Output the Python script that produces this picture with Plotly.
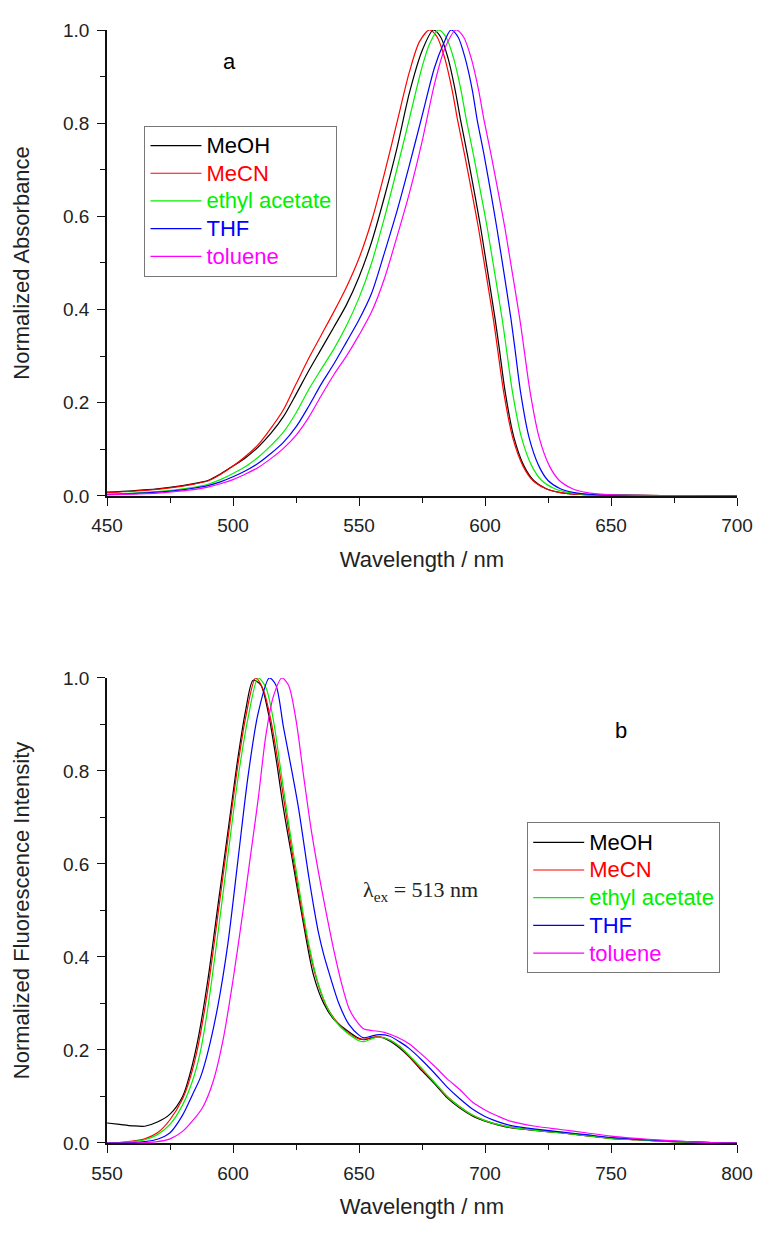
import plotly.graph_objects as go
from plotly.subplots import make_subplots

# ---------------- Data: absorbance (panel a) ----------------
abs_meoh_x = [450, 460, 470, 480, 485, 490, 495, 500, 505, 510, 515, 520, 525, 530, 535, 540, 545, 550,
              555, 560, 565, 570, 575, 579.5, 582.4, 585.3, 588.2, 590.2, 593.1, 596, 598.3, 600.8, 604,
              605.7, 608.1, 611.5, 615.4, 619.3, 624.1, 630, 638, 650, 670, 700]
abs_meoh_y = [0.008, 0.011, 0.015, 0.022, 0.027, 0.033, 0.047, 0.064, 0.082, 0.105, 0.134, 0.170, 0.218,
              0.268, 0.315, 0.362, 0.410, 0.470, 0.545, 0.640, 0.745, 0.865, 0.955, 1.000, 0.985, 0.940,
              0.870, 0.810, 0.730, 0.645, 0.575, 0.490, 0.380, 0.315, 0.220, 0.125, 0.065, 0.033, 0.016,
              0.007, 0.003, 0.0015, 0.0008, 0.0004]

abs_mecn_x = [450, 460, 470, 480, 485, 490, 495, 500, 505, 510, 515, 520, 525, 530, 535, 540, 545, 550,
              555, 560, 565, 570, 574, 578, 581, 584, 587, 589, 592, 595, 597.4, 600, 603.3, 605, 607.5,
              611, 615, 619, 624, 630, 638, 650, 670, 700]
abs_mecn_y = [0.007, 0.010, 0.014, 0.021, 0.026, 0.032, 0.046, 0.064, 0.085, 0.110, 0.145, 0.185, 0.240,
              0.295, 0.345, 0.395, 0.448, 0.510, 0.590, 0.690, 0.800, 0.910, 0.975, 1.000, 0.985, 0.940,
              0.870, 0.810, 0.730, 0.645, 0.575, 0.490, 0.380, 0.315, 0.220, 0.125, 0.065, 0.033, 0.016,
              0.007, 0.003, 0.0015, 0.0008, 0.0004]

abs_etac_x = [450, 460, 470, 480, 485, 490, 495, 500, 505, 510, 515, 520, 525, 530, 535, 540, 545, 550,
              555, 560, 565, 570, 575, 578, 581.5, 584.5, 587.5, 590.5, 592.5, 595.5, 598.5, 600.9, 603.5,
              606.8, 608.5, 611, 614.5, 618.5, 622.5, 627.5, 633.5, 641.5, 650, 670, 700]
abs_etac_y = [0.004, 0.006, 0.009, 0.015, 0.019, 0.025, 0.035, 0.048, 0.063, 0.083, 0.108, 0.137, 0.178,
              0.228, 0.272, 0.315, 0.365, 0.425, 0.500, 0.595, 0.700, 0.810, 0.920, 0.970, 1.000, 0.985,
              0.940, 0.870, 0.810, 0.730, 0.645, 0.575, 0.490, 0.380, 0.315, 0.220, 0.125, 0.065, 0.033,
              0.016, 0.007, 0.003, 0.0015, 0.0008, 0.0004]

abs_thf_x = [450, 460, 470, 480, 485, 490, 495, 500, 505, 510, 515, 520, 525, 530, 535, 540, 545, 550,
             555, 560, 565, 570, 575, 580, 583.5, 586.5, 589.3, 592.1, 595, 596.8, 599.7, 602.5, 604.7,
             607.2, 610.3, 611.9, 614.2, 617.5, 621.3, 625, 629.7, 635.5, 642.9, 655, 675, 700]
abs_thf_y = [0.003, 0.005, 0.008, 0.013, 0.017, 0.022, 0.030, 0.041, 0.054, 0.070, 0.091, 0.115, 0.148,
             0.192, 0.240, 0.283, 0.330, 0.378, 0.435, 0.520, 0.610, 0.710, 0.815, 0.920, 0.970, 1.000,
             0.985, 0.940, 0.870, 0.810, 0.730, 0.645, 0.575, 0.490, 0.380, 0.315, 0.220, 0.125, 0.065,
             0.033, 0.016, 0.007, 0.003, 0.0012, 0.0006, 0.0003]

abs_tol_x = [450, 460, 470, 480, 485, 490, 495, 500, 505, 510, 515, 520, 525, 530, 535, 540, 545, 550,
             555, 560, 565, 570, 575, 580, 584, 588.5, 591.5, 594.5, 597.5, 599.5, 602.5, 605.5, 607.9,
             610.5, 613.8, 615.5, 618, 621.5, 625.5, 629.5, 634.5, 640.5, 648.5, 660, 680, 700]
abs_tol_y = [0.002, 0.004, 0.006, 0.011, 0.014, 0.019, 0.026, 0.035, 0.047, 0.061, 0.080, 0.102, 0.130,
             0.168, 0.215, 0.260, 0.300, 0.345, 0.395, 0.465, 0.555, 0.650, 0.760, 0.885, 0.960, 1.000,
             0.985, 0.940, 0.870, 0.810, 0.730, 0.645, 0.575, 0.490, 0.380, 0.315, 0.220, 0.125, 0.065,
             0.033, 0.016, 0.007, 0.003, 0.0012, 0.0006, 0.0003]

# ---------------- Data: fluorescence (panel b) ----------------
fl_meoh_x = [550, 555, 560, 565, 570, 575, 580, 583, 586, 590, 594, 598, 602, 605, 608, 611, 614, 617,
             620, 624, 628, 632, 636, 640, 645, 650, 652, 655, 658, 662, 666, 670, 675, 680, 685, 690,
             695, 700, 705, 710, 720, 730, 740, 750, 760, 770, 780, 790, 800]
fl_meoh_y = [0.043, 0.040, 0.037, 0.036, 0.045, 0.062, 0.100, 0.150, 0.220, 0.350, 0.510, 0.670, 0.830,
             0.930, 0.995, 0.985, 0.925, 0.830, 0.720, 0.595, 0.470, 0.360, 0.300, 0.266, 0.243, 0.225,
             0.222, 0.226, 0.228, 0.220, 0.205, 0.185, 0.155, 0.127, 0.097, 0.075, 0.058, 0.047, 0.039,
             0.033, 0.027, 0.022, 0.016, 0.010, 0.007, 0.004, 0.002, 0.001, 0.000]

fl_mecn_x = [550, 555, 560, 565, 570, 575, 580, 583, 586, 590, 594, 598, 602, 605, 609, 612, 615, 618,
             621, 625, 629, 633, 637, 641, 645, 650, 652, 655, 658, 662, 666, 670, 675, 680, 685, 690,
             695, 700, 705, 710, 720, 730, 740, 750, 760, 770, 780, 790, 800]
fl_mecn_y = [0.000, 0.001, 0.004, 0.009, 0.022, 0.050, 0.095, 0.140, 0.205, 0.330, 0.490, 0.655, 0.815,
             0.915, 1.000, 0.975, 0.910, 0.815, 0.710, 0.575, 0.450, 0.355, 0.295, 0.262, 0.240, 0.224,
             0.223, 0.227, 0.229, 0.222, 0.208, 0.186, 0.158, 0.130, 0.100, 0.078, 0.060, 0.048, 0.040,
             0.034, 0.027, 0.022, 0.016, 0.010, 0.007, 0.004, 0.002, 0.001, 0.000]

fl_etac_x = [550, 555, 560, 565, 570, 575, 580, 584, 587, 590, 594, 598, 602, 606, 610, 613, 616, 619,
             622, 626, 630, 634, 638, 642, 646, 650, 652, 655, 658, 662, 666, 670, 675, 680, 685, 690,
             695, 700, 705, 710, 720, 730, 740, 750, 760, 770, 780, 790, 800]
fl_etac_y = [0.000, 0.001, 0.003, 0.007, 0.018, 0.040, 0.082, 0.135, 0.195, 0.290, 0.450, 0.620, 0.785,
             0.915, 1.000, 0.980, 0.910, 0.800, 0.690, 0.555, 0.430, 0.340, 0.285, 0.253, 0.234, 0.220,
             0.218, 0.224, 0.228, 0.222, 0.208, 0.188, 0.160, 0.130, 0.100, 0.078, 0.060, 0.048, 0.040,
             0.034, 0.027, 0.022, 0.016, 0.010, 0.007, 0.004, 0.002, 0.001, 0.000]

fl_thf_x = [550, 560, 565, 570, 575, 580, 584, 587, 590, 594, 598, 602, 606, 610, 614.4, 617, 620, 623,
            626, 630, 632, 634, 636, 638, 642, 646, 650, 652, 655, 658, 662, 666, 670, 675, 680, 685,
            690, 695, 700, 705, 710, 720, 730, 740, 750, 760, 770, 780, 790, 800]
fl_thf_y = [0.000, 0.001, 0.003, 0.008, 0.022, 0.060, 0.105, 0.140, 0.195, 0.295, 0.430, 0.610, 0.790,
            0.925, 1.000, 0.985, 0.895, 0.810, 0.720, 0.575, 0.509, 0.450, 0.405, 0.368, 0.300, 0.255,
            0.232, 0.226, 0.230, 0.233, 0.230, 0.218, 0.203, 0.178, 0.150, 0.120, 0.095, 0.073, 0.057,
            0.046, 0.038, 0.030, 0.024, 0.018, 0.012, 0.008, 0.005, 0.003, 0.001, 0.000]

fl_tol_x = [550, 560, 565, 570, 575, 580, 584, 588, 592, 596, 600, 604, 607, 610, 613, 616, 619.4, 622,
            625, 628, 631, 634, 637, 640, 643, 646, 649, 652, 655, 660, 665, 670, 675, 680, 685, 690,
            695, 700, 705, 710, 720, 730, 740, 750, 760, 770, 780, 790, 800]
fl_tol_y = [0.000, 0.000, 0.001, 0.003, 0.009, 0.025, 0.048, 0.077, 0.130, 0.220, 0.350, 0.500, 0.620,
            0.740, 0.875, 0.960, 1.000, 0.985, 0.910, 0.790, 0.675, 0.580, 0.495, 0.415, 0.345, 0.290,
            0.262, 0.245, 0.242, 0.238, 0.228, 0.213, 0.190, 0.165, 0.138, 0.115, 0.088, 0.071, 0.058,
            0.047, 0.036, 0.029, 0.022, 0.015, 0.010, 0.006, 0.003, 0.001, 0.000]

solvents = ["MeOH", "MeCN", "ethyl acetate", "THF", "toluene"]
colors = ["#000000", "#ff0000", "#00f000", "#0000ff", "#ff00ff"]
abs_series = [(abs_meoh_x, abs_meoh_y), (abs_mecn_x, abs_mecn_y), (abs_etac_x, abs_etac_y),
              (abs_thf_x, abs_thf_y), (abs_tol_x, abs_tol_y)]
fl_series = [(fl_meoh_x, fl_meoh_y), (fl_mecn_x, fl_mecn_y), (fl_etac_x, fl_etac_y),
             (fl_thf_x, fl_thf_y), (fl_tol_x, fl_tol_y)]

x_ticks_a = [450, 500, 550, 600, 650, 700]
x_ticks_b = [550, 600, 650, 700, 750, 800]
y_ticks = [0.0, 0.2, 0.4, 0.6, 0.8, 1.0]

# ---------------- Figure ----------------
fig = make_subplots(rows=2, cols=1, vertical_spacing=0.1)

def label(name, col):
    return f'<span style="color:{col};font-size:22px">{name}</span>'

for name, col, (xs, ys) in zip(solvents, colors, abs_series):
    fig.add_trace(go.Scatter(x=xs, y=ys, mode="lines",
                             line=dict(color=col, width=1.2, shape="spline", smoothing=0.8),
                             name=label(name, col), legend="legend"),
                  row=1, col=1)
for name, col, (xs, ys) in zip(solvents, colors, fl_series):
    fig.add_trace(go.Scatter(x=xs, y=ys, mode="lines",
                             line=dict(color=col, width=1.2, shape="spline", smoothing=0.8),
                             name=label(name, col), legend="legend2"),
                  row=2, col=1)

FONT = "Liberation Sans, Arial, sans-serif"
TXT = "#222222"
axis_common = dict(showline=True, linecolor="#111111", linewidth=1.5, ticks="outside", ticklen=8,
                   tickwidth=1.3, tickcolor="#111111", showgrid=False, zeroline=False, mirror=False,
                   ticklabelstandoff=4, ticklabeloverflow="allow",
                   tickfont=dict(family=FONT, size=19, color=TXT))
minor_common = dict(ticks="outside", ticklen=5, tickwidth=1.2, tickcolor="#111111")

fig.update_xaxes(**axis_common)
fig.update_yaxes(**axis_common)

fig.update_xaxes(range=[450, 700], tickvals=x_ticks_a, domain=[0, 1],
                 minor=dict(dtick=25, tick0=450, **minor_common),
                 title=dict(text="Wavelength / nm", font=dict(family=FONT, size=22, color=TXT), standoff=16),
                 row=1, col=1)
fig.update_xaxes(range=[550, 800], tickvals=x_ticks_b, domain=[0, 1],
                 minor=dict(dtick=25, tick0=550, **minor_common),
                 title=dict(text="Wavelength / nm", font=dict(family=FONT, size=22, color=TXT), standoff=16),
                 row=2, col=1)
fig.update_yaxes(range=[0, 1.0], tickvals=y_ticks, tickformat=".1f", domain=[0.5814, 1.0],
                 minor=dict(dtick=0.1, tick0=0, **minor_common),
                 title=dict(text="Normalized Absorbance", font=dict(family=FONT, size=22, color=TXT), standoff=27),
                 row=1, col=1)
fig.update_yaxes(range=[0, 1.0], tickvals=y_ticks, tickformat=".1f", domain=[0.0, 0.4178],
                 minor=dict(dtick=0.1, tick0=0, **minor_common),
                 title=dict(text="Normalized Fluorescence Intensity", font=dict(family=FONT, size=22, color=TXT), standoff=27),
                 row=2, col=1)

legend_common = dict(bgcolor="white", bordercolor="#777777", borderwidth=1,
                     font=dict(family=FONT, size=19), xanchor="left", yanchor="top",
                     tracegroupgap=0, itemwidth=51)
fig.update_layout(
    width=757, height=1219,
    margin=dict(l=99, r=19, t=17, b=65),
    paper_bgcolor="white", plot_bgcolor="white",
    showlegend=True,
    legend=dict(x=0.0595, y=0.9140, **legend_common),
    legend2=dict(x=0.667, y=0.2880, **legend_common),
    annotations=[
        dict(text="a", x=498.5, y=0.933, xref="x", yref="y", showarrow=False,
             font=dict(family=FONT, size=22, color="black")),
        dict(text="b", x=753.8, y=0.888, xref="x2", yref="y2", showarrow=False,
             font=dict(family=FONT, size=22, color="black")),
        dict(text="λ<sub>ex</sub> = 513 nm", x=674.4, y=0.541, xref="x2", yref="y2", showarrow=False,
             font=dict(family="Liberation Serif, Times New Roman, serif", size=22, color=TXT)),
    ],
)

fig.write_html("out.html")
